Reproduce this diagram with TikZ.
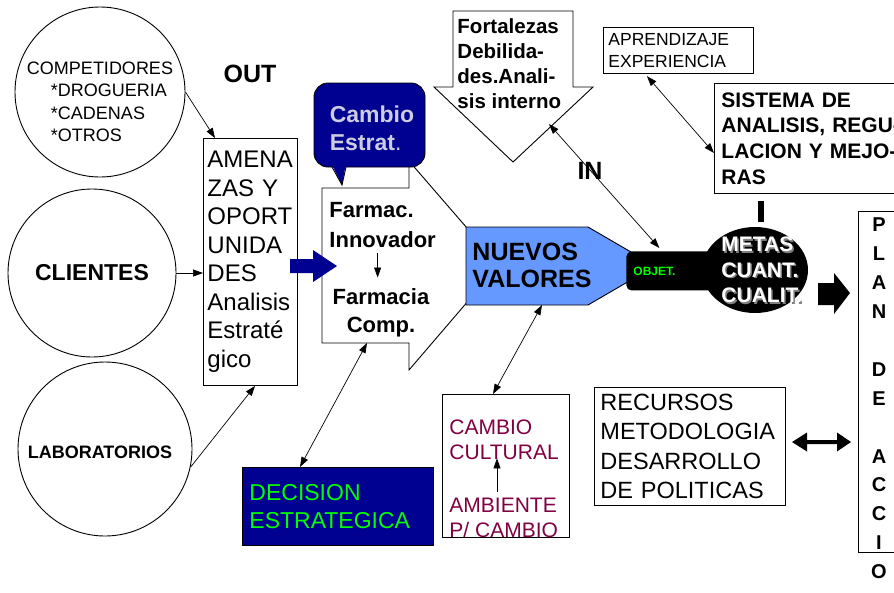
\documentclass[tikz,border=0pt]{standalone}
\usepackage{fontspec}
\setmainfont{Liberation Sans}
\usetikzlibrary{arrows.meta,positioning,shapes.geometric}
\definecolor{navyfill}{RGB}{0,0,145}
\definecolor{valblue}{RGB}{102,153,255}
\definecolor{objgreen}{RGB}{0,255,0}
\definecolor{culturered}{RGB}{128,0,64}
\definecolor{callgray}{RGB}{205,205,225}
\newcommand{\pxfont}[2]{\fontsize{#1}{#2}\selectfont}

\begin{document}
\begin{tikzpicture}[x=1pt,y=-1pt,line width=0.9pt,
  every node/.style={inner sep=1pt},
  circ/.style={draw,circle,minimum size=#1},
  plainbox/.style={draw,rectangle,anchor=north west,align=left},
  conn/.style={-{Triangle[length=10pt,width=7pt]},line width=0.7pt},
  dconn/.style={{Triangle[length=10pt,width=7pt]}-{Triangle[length=10pt,width=7pt]},line width=0.7pt}]
\useasboundingbox (0,0) rectangle (894,592);
\clip (0,0) rectangle (894,592);
% entorno externo
\node[circ=170] (comp) at (100,92) {};
\node[align=left,font=\pxfont{18}{22.5}] (comptxt) at (100,102) {COMPETIDORES\\\hspace*{24pt}*DROGUERIA\\\hspace*{24pt}*CADENAS\\\hspace*{24pt}*OTROS};
\node[circ=168,font=\bfseries\pxfont{23}{27}] (clien) at (92,273) {CLIENTES};
\node[circ=174] (lab) at (105,449) {};
\node[font=\bfseries\pxfont{18}{22}] (labtxt) at (100,452) {LABORATORIOS};
\node[font=\bfseries\pxfont{25}{30}] (out) at (250,74) {OUT};
\node[plainbox,minimum width=94,minimum height=247,text width=86,inner xsep=4,font=\pxfont{24}{28.5}] (amen) at (203,138) {AMENA\\ZAS Y\\OPORT\\UNIDA\\DES\\Analisis\\Estraté\\gico};
\draw[conn] (comp.east) -- ([xshift=12pt]amen.north west);
\draw[conn] (clien.east) -- (clien.east -| amen.west);
\draw[conn] (lab.-12) -- ([xshift=52pt]amen.south west);
% cambio estrategico
\draw[fill=white] (322,188) -- (409,188) -- (409,161) -- (499,265) -- (409,370) -- (409,343) -- (322,343) -- cycle;
\coordinate (farmS) at (367,343);
\fill[navyfill] (290,259) -- (313,259) -- (313,250) -- (337,266) -- (313,282) -- (313,273) -- (290,273) -- cycle;
\node[draw,fill=navyfill,rounded corners=14pt,minimum width=111,minimum height=84] (callout) at (369.5,125) {};
\fill[navyfill] (331,163) -- (346,163) -- (342,185) -- cycle;
\draw (332,167) -- (342,185) -- (346,167);
\node[align=left,text=callgray,font=\bfseries\pxfont{23}{27.5}] (calltxt) at (372,128.5) {Cambio\\Estrat\textmd{.}};
\node[anchor=west,align=left,font=\bfseries\pxfont{22}{30}] (innov) at (328,225.5) {Farmac.\\Innovador};
\node[align=center,font=\bfseries\pxfont{22}{27.5}] (farm) at (381,313) {Farmacia\\Comp.};
\draw[conn,shorten <=3pt,shorten >=10pt] ([xshift=-5pt]innov.south) -- ([xshift=-5pt]innov.south |- farm.north);
\node[plainbox,fill=navyfill,text=objgreen,minimum width=191,minimum height=78,text width=177,inner xsep=7,font=\pxfont{23}{27.5}] (decis) at (242,467) {DECISION\\ESTRATEGICA};
\draw[dconn] ([xshift=58pt]decis.north west) -- (farmS);
% analisis interno
\draw[fill=white] (453,11) -- (573,11) -- (573,87) -- (593,87) -- (513,162) -- (434,87) -- (453,87) -- cycle;
\node[anchor=west,align=left,font=\bfseries\pxfont{20.5}{25}] (swot) at (456,64) {Fortalezas\\Debilida-\\des.Anali-\\sis interno};
\coordinate (swotR) at (549,124);
\node[font=\bfseries\pxfont{25}{30}] (in) at (590,171) {IN};
% nuevos valores y objetivos
\draw[fill=valblue] (466,227) -- (588,227) -- (655,266) -- (588,305) -- (466,305) -- cycle;
\node[anchor=west,align=left,font=\bfseries\pxfont{25}{27}] (valtxt) at (471,265) {NUEVOS\\VALORES};
\coordinate (valS) at (542,305);
\node[anchor=north west,fill=black,rounded corners=5pt,minimum width=94,minimum height=39,text width=80,inner xsep=7,align=left,text=objgreen,font=\bfseries\pxfont{12}{14}] (objet) at (626,251) {OBJET.};
\draw[dconn,shorten >=4pt] (swotR) -- ([xshift=36pt]objet.north west);
\node[ellipse,fill=black,minimum width=106,minimum height=86,inner sep=0pt] (metas) at (755,270) {};
\node[anchor=west,align=left,text=gray,font=\bfseries\pxfont{21}{25.5}] (metshad) at (721.5,271.5) {METAS\\CUANT.\\CUALIT.};
\node[anchor=west,align=left,text=white,font=\bfseries\pxfont{21}{25.5}] (mettxt) at (720,270) {METAS\\CUANT.\\CUALIT.};
% cultura
\node[plainbox,minimum width=127,minimum height=143] (cultbox) at (442,394) {};
\node[anchor=west,align=left,text=culturered,font=\pxfont{21}{25}] (cult) at (448,440) {CAMBIO\\CULTURAL};
\node[anchor=west,align=left,text=culturered,font=\pxfont{21}{25}] (amb) at (448,518) {AMBIENTE\\P/ CAMBIO};
\draw[conn,shorten <=5pt,shorten >=-3pt] ([xshift=49pt]amb.north west) -- ([xshift=49pt]cult.south west);
\draw[dconn] ([xshift=51pt]cultbox.north west) -- (valS);
% sistema de regulacion
\node[plainbox,minimum width=150,minimum height=46,text width=140,inner xsep=5,font=\pxfont{17.5}{21.5}] (aprend) at (603,27) {APRENDIZAJE\\EXPERIENCIA};
\node[plainbox,minimum width=200,minimum height=110,text width=186,inner xsep=7,font=\bfseries\pxfont{21}{25.7}] (sist) at (714,83) {SISTEMA DE\\ANALISIS, REGU-\\LACION Y MEJO-\\RAS};
\draw[dconn,shorten <=3pt] ([xshift=42pt]aprend.south west) -- ([yshift=-70pt]sist.north west);
\draw[line width=6pt] ([xshift=47pt,yshift=-7pt]sist.south west) -- ++(0,21);
% plan de accion
\node[plainbox,minimum width=50,minimum height=341] (plan) at (858,211) {};
\foreach \ch/\k in {P/0,L/1,A/2,N/3,D/5,E/6,A/8,C/9,C/10,I/11,O/12}
  \node[font=\bfseries\pxfont{20}{24}] (plan-\k) at (879,225+28.9*\k) {\ch};
\fill (818,283) -- (834,283) -- (834,273) -- (850,293) -- (834,314) -- (834,305) -- (818,305) -- cycle;
\node[plainbox,minimum width=191,minimum height=118,text width=179,inner xsep=6,font=\pxfont{23.5}{29.5}] (recur) at (594,387) {RECURSOS\\METODOLOGIA\\DESARROLLO\\DE POLITICAS};
\fill (792,442) -- (807,432.5) -- (807,440) -- (837,440) -- (837,432.5) -- (851,442) -- (837,451.5) -- (837,444) -- (807,444) -- (807,451.5) -- cycle;
\end{tikzpicture}
\end{document}
